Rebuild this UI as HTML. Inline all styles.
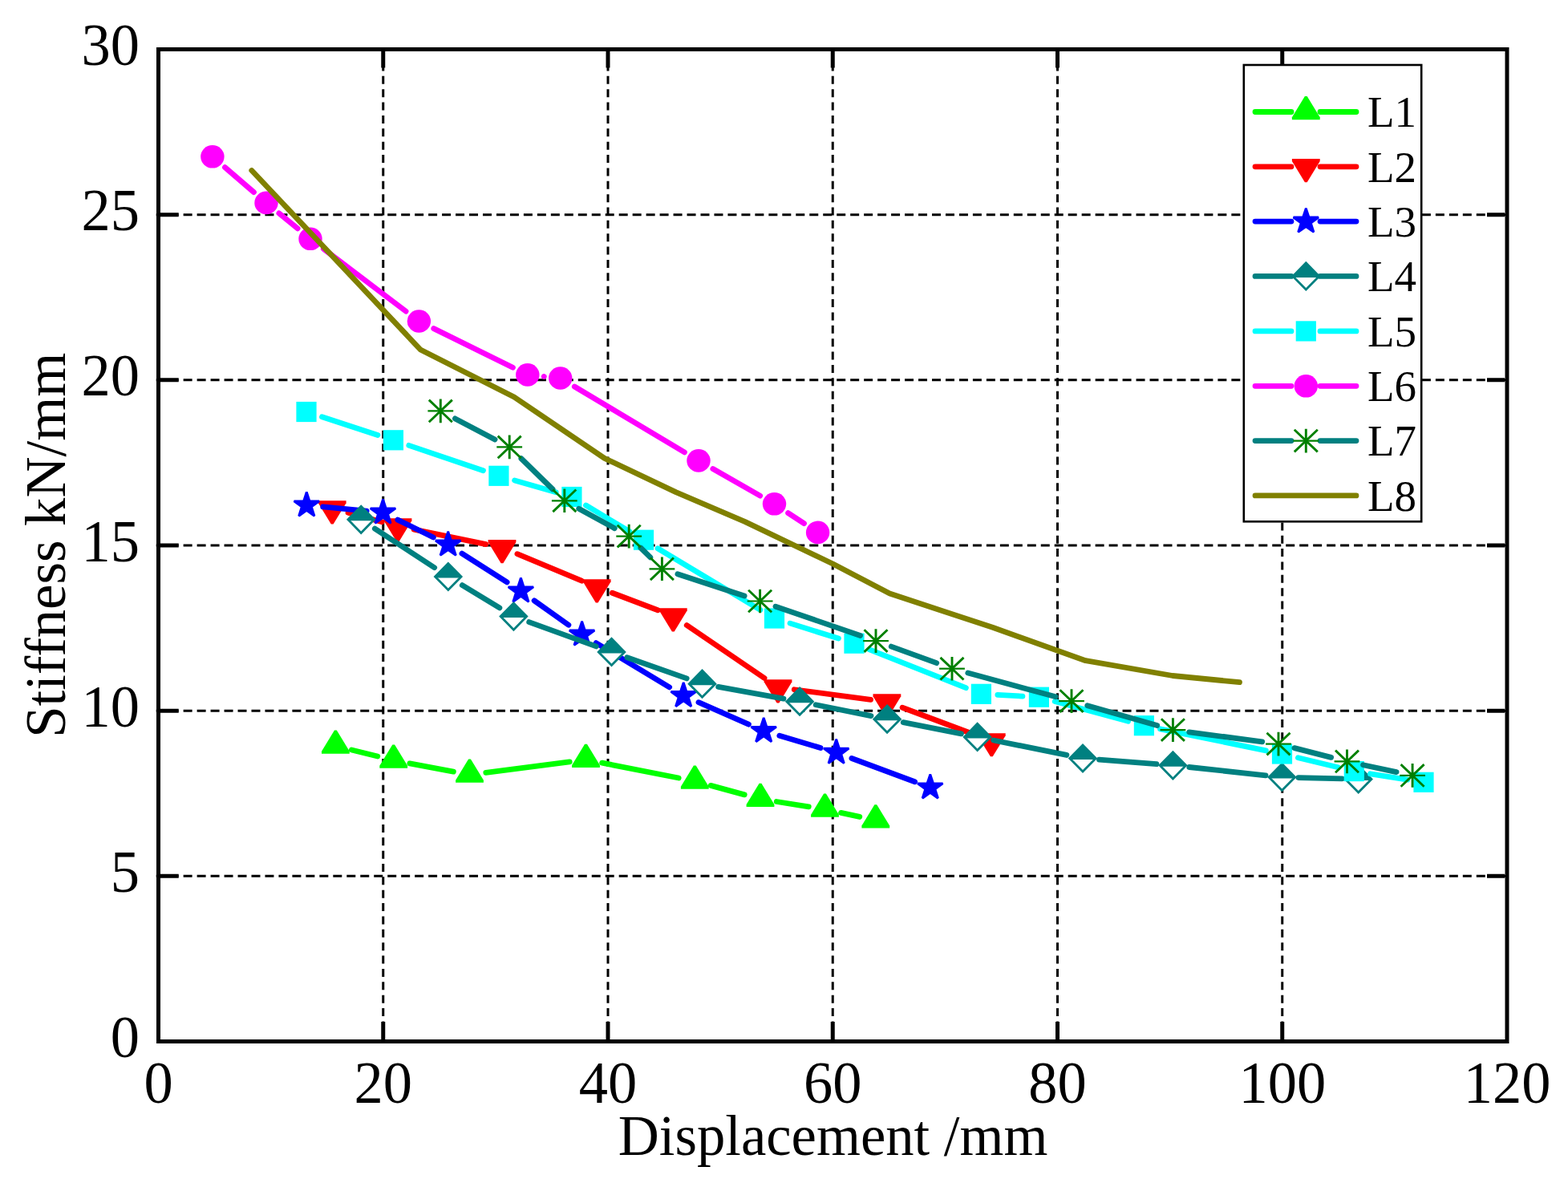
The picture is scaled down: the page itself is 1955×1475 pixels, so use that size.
<!DOCTYPE html><html><head><meta charset="utf-8"><title>Stiffness vs Displacement</title><style>html,body{margin:0;padding:0;background:#fff}svg{display:block}text{font-family:"Liberation Serif","Times New Roman",serif;fill:#000;font-variant-ligatures:none;font-feature-settings:"liga" 0,"clig" 0}</style></head><body>
<svg width="1955" height="1475" viewBox="0 0 1955 1475">
<rect width="1955" height="1475" fill="#fff"/>
<g stroke="#000" stroke-width="3" stroke-dasharray="11 5.97"><line x1="194.7" y1="1092.33" x2="1879" y2="1092.33"/><line x1="194.7" y1="886.17" x2="1879" y2="886.17"/><line x1="194.7" y1="680" x2="1879" y2="680"/><line x1="194.7" y1="473.83" x2="1879" y2="473.83"/><line x1="194.7" y1="267.67" x2="1879" y2="267.67"/></g>
<g stroke="#000" stroke-width="3" stroke-dasharray="10 6.37"><line x1="477.75" y1="62.06" x2="477.75" y2="1298.5"/><line x1="758" y1="62.06" x2="758" y2="1298.5"/><line x1="1038.25" y1="62.06" x2="1038.25" y2="1298.5"/><line x1="1318.5" y1="62.06" x2="1318.5" y2="1298.5"/><line x1="1598.75" y1="62.06" x2="1598.75" y2="1298.5"/></g>
<path d="M200 1092.33H222.7M1876 1092.33H1854M200 886.17H222.7M1876 886.17H1854M200 680H222.7M1876 680H1854M200 473.83H222.7M1876 473.83H1854M200 267.67H222.7M1876 267.67H1854M477.75 1296V1274M477.75 64V84.5M758 1296V1274M758 64V84.5M1038.25 1296V1274M1038.25 64V84.5M1318.5 1296V1274M1318.5 64V84.5M1598.75 1296V1274M1598.75 64V84.5" stroke="#000" stroke-width="5" fill="none"/>
<rect x="1550.8" y="81" width="221.4" height="569.3" fill="#fff" stroke="#000" stroke-width="2.6"/>
<path d="M438.29 934.95L470.81 943.05M510.84 951.82L565.36 962.18M605.83 963.36L710.17 949.84M750.61 951.17L846.19 970.03M886.08 979.4L928.22 990.9M968.25 999.49L1008.25 1005.81M1048.53 1013.37L1071.77 1018.43" stroke="#00ff00" stroke-width="6.8" stroke-linecap="round" fill="none"/>
<path d="M417 910.53L419.8 910.53L435.8 936.73L435.8 939.73L401 939.73L401 936.73Z" fill="#00ff00"/><path d="M489.3 928.53L492.1 928.53L508.1 954.73L508.1 957.73L473.3 957.73L473.3 954.73Z" fill="#00ff00"/><path d="M584.1 946.53L586.9 946.53L602.9 972.73L602.9 975.73L568.1 975.73L568.1 972.73Z" fill="#00ff00"/><path d="M729.1 927.73L731.9 927.73L747.9 953.93L747.9 956.93L713.1 956.93L713.1 953.93Z" fill="#00ff00"/><path d="M864.9 954.53L867.7 954.53L883.7 980.73L883.7 983.73L848.9 983.73L848.9 980.73Z" fill="#00ff00"/><path d="M946.6 976.83L949.4 976.83L965.4 1003.03L965.4 1006.03L930.6 1006.03L930.6 1003.03Z" fill="#00ff00"/><path d="M1027.1 989.53L1029.9 989.53L1045.9 1015.73L1045.9 1018.73L1011.1 1018.73L1011.1 1015.73Z" fill="#00ff00"/><path d="M1090.4 1003.33L1093.2 1003.33L1109.2 1029.53L1109.2 1032.53L1074.4 1032.53L1074.4 1029.53Z" fill="#00ff00"/>
<path d="M434 639.32L476.2 650.68M516.08 660.14L605.92 678.66M644.93 690.68L725.27 724.12M763.37 739.26L820.13 760.74M856.24 779.55L953.06 845.55M990.32 859.78L1085.58 872.32M1125.09 882.2L1217.11 916.7" stroke="#ff0000" stroke-width="6.8" stroke-linecap="round" fill="none"/>
<path d="M412.8 653.47L415.6 653.47L431.6 627.27L431.6 624.27L396.8 624.27L396.8 627.27Z" fill="#ff0000"/><path d="M494.6 675.47L497.4 675.47L513.4 649.27L513.4 646.27L478.6 646.27L478.6 649.27Z" fill="#ff0000"/><path d="M624.6 702.27L627.4 702.27L643.4 676.07L643.4 673.07L608.6 673.07L608.6 676.07Z" fill="#ff0000"/><path d="M742.8 751.47L745.6 751.47L761.6 725.27L761.6 722.27L726.8 722.27L726.8 725.27Z" fill="#ff0000"/><path d="M837.9 787.47L840.7 787.47L856.7 761.27L856.7 758.27L821.9 758.27L821.9 761.27Z" fill="#ff0000"/><path d="M968.6 876.57L971.4 876.57L987.4 850.37L987.4 847.37L952.6 847.37L952.6 850.37Z" fill="#ff0000"/><path d="M1104.5 894.47L1107.3 894.47L1123.3 868.27L1123.3 865.27L1088.5 865.27L1088.5 868.27Z" fill="#ff0000"/><path d="M1234.9 943.37L1237.7 943.37L1253.7 917.17L1253.7 914.17L1218.9 914.17L1218.9 917.17Z" fill="#ff0000"/>
<path d="M402.71 631.93L457.09 637.07M495.88 648.08L540.32 670.02M575.98 690.13L632.12 725.97M666.12 748.87L708.88 779.23M743.16 801.68L834.64 856.82M870.96 875.66L933.44 903.14M971.85 917.24L1023.05 932.46M1061.91 945.45L1140.59 974.75" stroke="#0000ff" stroke-width="6.8" stroke-linecap="round" fill="none"/>
<path d="M382.3 613.5L386.06 624.82L397.99 624.9L388.39 631.98L392 643.35L382.3 636.4L372.6 643.35L376.21 631.98L366.61 624.9L378.54 624.82Z" fill="#0000ff" stroke="#0000ff" stroke-width="2.8" stroke-linejoin="bevel"/><path d="M477.5 622.5L481.26 633.82L493.19 633.9L483.59 640.98L487.2 652.35L477.5 645.4L467.8 652.35L471.41 640.98L461.81 633.9L473.74 633.82Z" fill="#0000ff" stroke="#0000ff" stroke-width="2.8" stroke-linejoin="bevel"/><path d="M558.7 662.6L562.46 673.92L574.39 674L564.79 681.08L568.4 692.45L558.7 685.5L549 692.45L552.61 681.08L543.01 674L554.94 673.92Z" fill="#0000ff" stroke="#0000ff" stroke-width="2.8" stroke-linejoin="bevel"/><path d="M649.4 720.5L653.16 731.82L665.09 731.9L655.49 738.98L659.1 750.35L649.4 743.4L639.7 750.35L643.31 738.98L633.71 731.9L645.64 731.82Z" fill="#0000ff" stroke="#0000ff" stroke-width="2.8" stroke-linejoin="bevel"/><path d="M725.6 774.6L729.36 785.92L741.29 786L731.69 793.08L735.3 804.45L725.6 797.5L715.9 804.45L719.51 793.08L709.91 786L721.84 785.92Z" fill="#0000ff" stroke="#0000ff" stroke-width="2.8" stroke-linejoin="bevel"/><path d="M852.2 850.9L855.96 862.22L867.89 862.3L858.29 869.38L861.9 880.75L852.2 873.8L842.5 880.75L846.11 869.38L836.51 862.3L848.44 862.22Z" fill="#0000ff" stroke="#0000ff" stroke-width="2.8" stroke-linejoin="bevel"/><path d="M952.2 894.9L955.96 906.22L967.89 906.3L958.29 913.38L961.9 924.75L952.2 917.8L942.5 924.75L946.11 913.38L936.51 906.3L948.44 906.22Z" fill="#0000ff" stroke="#0000ff" stroke-width="2.8" stroke-linejoin="bevel"/><path d="M1042.7 921.8L1046.46 933.12L1058.39 933.2L1048.79 940.28L1052.4 951.65L1042.7 944.7L1033 951.65L1036.61 940.28L1027.01 933.2L1038.94 933.12Z" fill="#0000ff" stroke="#0000ff" stroke-width="2.8" stroke-linejoin="bevel"/><path d="M1159.8 965.4L1163.56 976.72L1175.49 976.8L1165.89 983.88L1169.5 995.25L1159.8 988.3L1150.1 995.25L1153.71 983.88L1144.11 976.8L1156.04 976.72Z" fill="#0000ff" stroke="#0000ff" stroke-width="2.8" stroke-linejoin="bevel"/>
<path d="M467.34 659.04L541.66 707.76M576.32 729.65L622.88 757.95M659.67 775.59L743.23 805.91M781.84 819.71L856.16 845.89M895.67 856.35L976.93 871.05M1017.19 878.76L1086.01 892.64M1126.21 900.67L1198.49 914.93M1238.69 922.97L1329.91 941.43M1370.44 947.1L1441.96 952.7M1482.78 956.5L1578.02 966.8M1618.89 969.54L1673.21 970.96" stroke="#008080" stroke-width="6.8" stroke-linecap="round" fill="none"/>
<path d="M433.9 647.8L466.5 647.8L450.2 664.4Z" fill="white"/><path d="M433.9 647.8L450.2 631.2L466.5 647.8L465 649.3L435.4 649.3Z" fill="#008080"/><path d="M450.2 631.2L466.5 647.8L450.2 664.4L433.9 647.8Z" fill="none" stroke="#008080" stroke-width="2.8"/><path d="M542.5 719L575.1 719L558.8 735.6Z" fill="white"/><path d="M542.5 719L558.8 702.4L575.1 719L573.6 720.5L544 720.5Z" fill="#008080"/><path d="M558.8 702.4L575.1 719L558.8 735.6L542.5 719Z" fill="none" stroke="#008080" stroke-width="2.8"/><path d="M624.1 768.6L656.7 768.6L640.4 785.2Z" fill="white"/><path d="M624.1 768.6L640.4 752L656.7 768.6L655.2 770.1L625.6 770.1Z" fill="#008080"/><path d="M640.4 752L656.7 768.6L640.4 785.2L624.1 768.6Z" fill="none" stroke="#008080" stroke-width="2.8"/><path d="M746.2 812.9L778.8 812.9L762.5 829.5Z" fill="white"/><path d="M746.2 812.9L762.5 796.3L778.8 812.9L777.3 814.4L747.7 814.4Z" fill="#008080"/><path d="M762.5 796.3L778.8 812.9L762.5 829.5L746.2 812.9Z" fill="none" stroke="#008080" stroke-width="2.8"/><path d="M859.2 852.7L891.8 852.7L875.5 869.3Z" fill="white"/><path d="M859.2 852.7L875.5 836.1L891.8 852.7L890.3 854.2L860.7 854.2Z" fill="#008080"/><path d="M875.5 836.1L891.8 852.7L875.5 869.3L859.2 852.7Z" fill="none" stroke="#008080" stroke-width="2.8"/><path d="M980.8 874.7L1013.4 874.7L997.1 891.3Z" fill="white"/><path d="M980.8 874.7L997.1 858.1L1013.4 874.7L1011.9 876.2L982.3 876.2Z" fill="#008080"/><path d="M997.1 858.1L1013.4 874.7L997.1 891.3L980.8 874.7Z" fill="none" stroke="#008080" stroke-width="2.8"/><path d="M1089.8 896.7L1122.4 896.7L1106.1 913.3Z" fill="white"/><path d="M1089.8 896.7L1106.1 880.1L1122.4 896.7L1120.9 898.2L1091.3 898.2Z" fill="#008080"/><path d="M1106.1 880.1L1122.4 896.7L1106.1 913.3L1089.8 896.7Z" fill="none" stroke="#008080" stroke-width="2.8"/><path d="M1202.3 918.9L1234.9 918.9L1218.6 935.5Z" fill="white"/><path d="M1202.3 918.9L1218.6 902.3L1234.9 918.9L1233.4 920.4L1203.8 920.4Z" fill="#008080"/><path d="M1218.6 902.3L1234.9 918.9L1218.6 935.5L1202.3 918.9Z" fill="none" stroke="#008080" stroke-width="2.8"/><path d="M1333.7 945.5L1366.3 945.5L1350 962.1Z" fill="white"/><path d="M1333.7 945.5L1350 928.9L1366.3 945.5L1364.8 947L1335.2 947Z" fill="#008080"/><path d="M1350 928.9L1366.3 945.5L1350 962.1L1333.7 945.5Z" fill="none" stroke="#008080" stroke-width="2.8"/><path d="M1446.1 954.3L1478.7 954.3L1462.4 970.9Z" fill="white"/><path d="M1446.1 954.3L1462.4 937.7L1478.7 954.3L1477.2 955.8L1447.6 955.8Z" fill="#008080"/><path d="M1462.4 937.7L1478.7 954.3L1462.4 970.9L1446.1 954.3Z" fill="none" stroke="#008080" stroke-width="2.8"/><path d="M1582.1 969L1614.7 969L1598.4 985.6Z" fill="white"/><path d="M1582.1 969L1598.4 952.4L1614.7 969L1613.2 970.5L1583.6 970.5Z" fill="#008080"/><path d="M1598.4 952.4L1614.7 969L1598.4 985.6L1582.1 969Z" fill="none" stroke="#008080" stroke-width="2.8"/><path d="M1677.4 971.5L1710 971.5L1693.7 988.1Z" fill="white"/><path d="M1677.4 971.5L1693.7 954.9L1710 971.5L1708.5 973L1678.9 973Z" fill="#008080"/><path d="M1693.7 954.9L1710 971.5L1693.7 988.1L1677.4 971.5Z" fill="none" stroke="#008080" stroke-width="2.8"/>
<path d="M401.49 519.85L470.91 542.45M509.82 555.37L602.48 586.73M641.6 598.97L693.2 613.83M730.48 630.04L784.92 662.66M820.08 683.75L947.92 760.45M985.06 777.13L1045.44 796.07M1084.04 809.79L1204.36 857.71M1243.87 866.41L1274.93 868.09M1315.19 874.56L1406.61 899.34M1446.48 908.82L1578.42 935.88M1618.43 944.79L1668.37 956.81M1708.55 964.8L1754.75 972.1" stroke="#00ffff" stroke-width="6.8" stroke-linecap="round" fill="none"/>
<rect x="369.4" y="500.9" width="25.2" height="25.2" fill="#00ffff"/><rect x="477.8" y="536.2" width="25.2" height="25.2" fill="#00ffff"/><rect x="609.3" y="580.7" width="25.2" height="25.2" fill="#00ffff"/><rect x="700.3" y="606.9" width="25.2" height="25.2" fill="#00ffff"/><rect x="789.9" y="660.6" width="25.2" height="25.2" fill="#00ffff"/><rect x="952.9" y="758.4" width="25.2" height="25.2" fill="#00ffff"/><rect x="1052.4" y="789.6" width="25.2" height="25.2" fill="#00ffff"/><rect x="1210.8" y="852.7" width="25.2" height="25.2" fill="#00ffff"/><rect x="1282.8" y="856.6" width="25.2" height="25.2" fill="#00ffff"/><rect x="1413.8" y="892.1" width="25.2" height="25.2" fill="#00ffff"/><rect x="1585.9" y="927.4" width="25.2" height="25.2" fill="#00ffff"/><rect x="1675.7" y="949" width="25.2" height="25.2" fill="#00ffff"/><rect x="1762.4" y="962.7" width="25.2" height="25.2" fill="#00ffff"/>
<path d="M280.45 208.65L316.45 239.55M347.88 265.86L371.12 284.84M403.33 310.19L506.07 388.11M540.78 409.58L639.42 458.32M678.2 469.44L678.3 469.46M716.3 482.01L853.4 563.89M888.81 584.56L947.69 618.14M982.62 639.57L1002.48 652.63" stroke="#ff00ff" stroke-width="6.8" stroke-linecap="round" fill="none"/>
<ellipse cx="264.9" cy="195.3" rx="14.7" ry="14.3" fill="#ff00ff"/><ellipse cx="332" cy="252.9" rx="14.7" ry="14.3" fill="#ff00ff"/><ellipse cx="387" cy="297.8" rx="14.7" ry="14.3" fill="#ff00ff"/><ellipse cx="522.4" cy="400.5" rx="14.7" ry="14.3" fill="#ff00ff"/><ellipse cx="657.8" cy="467.4" rx="14.7" ry="14.3" fill="#ff00ff"/><ellipse cx="698.7" cy="471.5" rx="14.7" ry="14.3" fill="#ff00ff"/><ellipse cx="871" cy="574.4" rx="14.7" ry="14.3" fill="#ff00ff"/><ellipse cx="965.5" cy="628.3" rx="14.7" ry="14.3" fill="#ff00ff"/><ellipse cx="1019.6" cy="663.9" rx="14.7" ry="14.3" fill="#ff00ff"/>
<path d="M567.46 521.91L617.04 547.89M649.88 571.71L689.12 609.99M721.75 634.19L766.25 658.71M798.78 683.01L810.82 694.89M844.87 715.71L928.13 743.09M966.99 756.16L1072.61 792.44M1111.26 806.12L1167.74 826.68M1206.79 839.06L1316.21 868.74M1355.72 879.72L1442.68 904.48M1482.72 912.8L1573.68 924.9M1613.86 932.66L1659.64 944.34M1699.54 953.7L1741.06 962.6" stroke="#008080" stroke-width="6.8" stroke-linecap="round" fill="none"/>
<path d="M533.4 512.4L565.2 512.4" stroke="#008000" stroke-width="2.2" fill="none"/><path d="M549.3 497.6L549.3 527.2M534.8 498.6L563.8 526.2M534.8 526.2L563.8 498.6" stroke="#008000" stroke-width="2.9" fill="none"/><path d="M619.3 557.4L651.1 557.4" stroke="#008000" stroke-width="2.2" fill="none"/><path d="M635.2 542.6L635.2 572.2M620.7 543.6L649.7 571.2M620.7 571.2L649.7 543.6" stroke="#008000" stroke-width="2.9" fill="none"/><path d="M687.9 624.3L719.7 624.3" stroke="#008000" stroke-width="2.2" fill="none"/><path d="M703.8 609.5L703.8 639.1M689.3 610.5L718.3 638.1M689.3 638.1L718.3 610.5" stroke="#008000" stroke-width="2.9" fill="none"/><path d="M768.3 668.6L800.1 668.6" stroke="#008000" stroke-width="2.2" fill="none"/><path d="M784.2 653.8L784.2 683.4M769.7 654.8L798.7 682.4M769.7 682.4L798.7 654.8" stroke="#008000" stroke-width="2.9" fill="none"/><path d="M809.5 709.3L841.3 709.3" stroke="#008000" stroke-width="2.2" fill="none"/><path d="M825.4 694.5L825.4 724.1M810.9 695.5L839.9 723.1M810.9 723.1L839.9 695.5" stroke="#008000" stroke-width="2.9" fill="none"/><path d="M931.7 749.5L963.5 749.5" stroke="#008000" stroke-width="2.2" fill="none"/><path d="M947.6 734.7L947.6 764.3M933.1 735.7L962.1 763.3M933.1 763.3L962.1 735.7" stroke="#008000" stroke-width="2.9" fill="none"/><path d="M1076.1 799.1L1107.9 799.1" stroke="#008000" stroke-width="2.2" fill="none"/><path d="M1092 784.3L1092 813.9M1077.5 785.3L1106.5 812.9M1077.5 812.9L1106.5 785.3" stroke="#008000" stroke-width="2.9" fill="none"/><path d="M1171.1 833.7L1202.9 833.7" stroke="#008000" stroke-width="2.2" fill="none"/><path d="M1187 818.9L1187 848.5M1172.5 819.9L1201.5 847.5M1172.5 847.5L1201.5 819.9" stroke="#008000" stroke-width="2.9" fill="none"/><path d="M1320.1 874.1L1351.9 874.1" stroke="#008000" stroke-width="2.2" fill="none"/><path d="M1336 859.3L1336 888.9M1321.5 860.3L1350.5 887.9M1321.5 887.9L1350.5 860.3" stroke="#008000" stroke-width="2.9" fill="none"/><path d="M1446.5 910.1L1478.3 910.1" stroke="#008000" stroke-width="2.2" fill="none"/><path d="M1462.4 895.3L1462.4 924.9M1447.9 896.3L1476.9 923.9M1447.9 923.9L1476.9 896.3" stroke="#008000" stroke-width="2.9" fill="none"/><path d="M1578.1 927.6L1609.9 927.6" stroke="#008000" stroke-width="2.2" fill="none"/><path d="M1594 912.8L1594 942.4M1579.5 913.8L1608.5 941.4M1579.5 941.4L1608.5 913.8" stroke="#008000" stroke-width="2.9" fill="none"/><path d="M1663.6 949.4L1695.4 949.4" stroke="#008000" stroke-width="2.2" fill="none"/><path d="M1679.5 934.6L1679.5 964.2M1665 935.6L1694 963.2M1665 963.2L1694 935.6" stroke="#008000" stroke-width="2.9" fill="none"/><path d="M1745.2 966.9L1777 966.9" stroke="#008000" stroke-width="2.2" fill="none"/><path d="M1761.1 952.1L1761.1 981.7M1746.6 953.1L1775.6 980.7M1746.6 980.7L1775.6 953.1" stroke="#008000" stroke-width="2.9" fill="none"/>
<path d="M313.8 212.5L524.3 436L641 495L753.7 571.4L842.7 613.6L928.6 650.4L1038.4 703L1109.3 740.1L1237.6 782.3L1353.5 823.7L1462 842.5L1545.5 850.7" stroke="#808000" stroke-width="6.8" stroke-linecap="round" stroke-linejoin="round" fill="none"/>
<rect x="197.5" y="61.5" width="1681.5" height="1237" fill="none" stroke="#000" stroke-width="5"/>
<path d="M1565 139.5H1610M1646 139.5H1691" stroke="#00ff00" stroke-width="6.8" stroke-linecap="round"/>
<path d="M1626.9 120.03L1629.7 120.03L1645.7 146.23L1645.7 149.23L1610.9 149.23L1610.9 146.23Z" fill="#00ff00"/>
<text x="1705" y="158.2" font-size="55">L1</text>
<path d="M1565 207.8H1610M1646 207.8H1691" stroke="#ff0000" stroke-width="6.8" stroke-linecap="round"/>
<path d="M1626.9 227.27L1629.7 227.27L1645.7 201.07L1645.7 198.07L1610.9 198.07L1610.9 201.07Z" fill="#ff0000"/>
<text x="1705" y="226.5" font-size="55">L2</text>
<path d="M1565 276.1H1610M1646 276.1H1691" stroke="#0000ff" stroke-width="6.8" stroke-linecap="round"/>
<path d="M1628.3 259.6L1632.06 270.92L1643.99 271L1634.39 278.08L1638 289.45L1628.3 282.5L1618.6 289.45L1622.21 278.08L1612.61 271L1624.54 270.92Z" fill="#0000ff" stroke="#0000ff" stroke-width="2.8" stroke-linejoin="bevel"/>
<text x="1705" y="294.8" font-size="55">L3</text>
<path d="M1565 344.4H1610M1646 344.4H1691" stroke="#008080" stroke-width="6.8" stroke-linecap="round"/>
<path d="M1612 344.4L1644.6 344.4L1628.3 361Z" fill="white"/><path d="M1612 344.4L1628.3 327.8L1644.6 344.4L1643.1 345.9L1613.5 345.9Z" fill="#008080"/><path d="M1628.3 327.8L1644.6 344.4L1628.3 361L1612 344.4Z" fill="none" stroke="#008080" stroke-width="2.8"/>
<text x="1705" y="363.1" font-size="55">L4</text>
<path d="M1565 412.9H1610M1646 412.9H1691" stroke="#00ffff" stroke-width="6.8" stroke-linecap="round"/>
<rect x="1615.7" y="400.3" width="25.2" height="25.2" fill="#00ffff"/>
<text x="1705" y="431.6" font-size="55">L5</text>
<path d="M1565 481.3H1610M1646 481.3H1691" stroke="#ff00ff" stroke-width="6.8" stroke-linecap="round"/>
<ellipse cx="1628.3" cy="481.3" rx="14.7" ry="14.3" fill="#ff00ff"/>
<text x="1705" y="500" font-size="55">L6</text>
<path d="M1565 549.6H1610M1646 549.6H1691" stroke="#008080" stroke-width="6.8" stroke-linecap="round"/>
<path d="M1612.4 549.6L1644.2 549.6" stroke="#008000" stroke-width="2.2" fill="none"/><path d="M1628.3 534.8L1628.3 564.4M1613.8 535.8L1642.8 563.4M1613.8 563.4L1642.8 535.8" stroke="#008000" stroke-width="2.9" fill="none"/>
<text x="1705" y="568.3" font-size="55">L7</text>
<path d="M1565 617.9H1691" stroke="#808000" stroke-width="6.8" stroke-linecap="round"/>
<text x="1705" y="636.6" font-size="55">L8</text>
<text transform="translate(174 1318.1) scale(1 1.02)" font-size="72.5" text-anchor="end">0</text>
<text transform="translate(174 1111.93) scale(1 1.02)" font-size="72.5" text-anchor="end">5</text>
<text transform="translate(174 905.77) scale(1 1.02)" font-size="72.5" text-anchor="end">10</text>
<text transform="translate(174 699.6) scale(1 1.02)" font-size="72.5" text-anchor="end">15</text>
<text transform="translate(174 493.43) scale(1 1.02)" font-size="72.5" text-anchor="end">20</text>
<text transform="translate(174 287.27) scale(1 1.02)" font-size="72.5" text-anchor="end">25</text>
<text transform="translate(174 81.1) scale(1 1.02)" font-size="72.5" text-anchor="end">30</text>
<text transform="translate(197.5 1374.8) scale(1 1.02)" font-size="72.5" text-anchor="middle">0</text>
<text transform="translate(477.75 1374.8) scale(1 1.02)" font-size="72.5" text-anchor="middle">20</text>
<text transform="translate(758 1374.8) scale(1 1.02)" font-size="72.5" text-anchor="middle">40</text>
<text transform="translate(1038.25 1374.8) scale(1 1.02)" font-size="72.5" text-anchor="middle">60</text>
<text transform="translate(1318.5 1374.8) scale(1 1.02)" font-size="72.5" text-anchor="middle">80</text>
<text transform="translate(1598.75 1374.8) scale(1 1.02)" font-size="72.5" text-anchor="middle">100</text>
<text transform="translate(1879 1374.8) scale(1 1.02)" font-size="72.5" text-anchor="middle">120</text>
<text transform="translate(1038.6 1439.8) scale(0.988 1)" font-size="71.5" text-anchor="middle">Displacement /mm</text>
<text transform="translate(80.7 679.8) rotate(-90) scale(0.989 1)" font-size="71.5" text-anchor="middle">Stiffness kN/mm</text>
</svg></body></html>
